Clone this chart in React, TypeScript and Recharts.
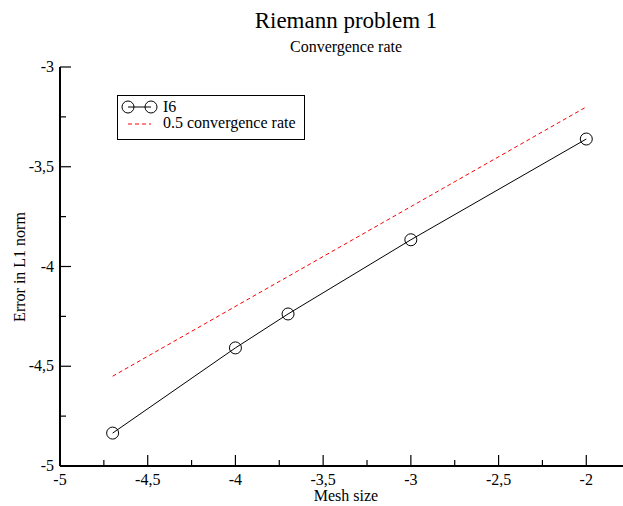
import { Line, LineChart, XAxis, YAxis } from "recharts"

// I6 error vs mesh size (log10 values)
const i6MeshSize = [-4.7, -4, -3.7, -3, -2]
const i6Error = [-4.835, -4.408, -4.238, -3.866, -3.361]

// reference slope line
const rateMeshSize = [-4.7, -2]
const rateError = [-4.55, -3.2]

const xMajorTicks = [-5, -4.5, -4, -3.5, -3, -2.5, -2, -1.5]
// -1,5 sits past the right edge of the picture, so no label there
const xMajorLabels = ["-5", "-4,5", "-4", "-3,5", "-3", "-2,5", "-2", ""]
const xMinorTicks = [-4.75, -4.25, -3.75, -3.25, -2.75, -2.25, -1.75]

const yMajorTicks = [-5, -4.5, -4, -3.5, -3]
const yMajorLabels = ["-5", "-4,5", "-4", "-3,5", "-3"]
const yMinorTicks = [-4.75, -4.25, -3.75, -3.25]

const i6Data = i6MeshSize.map((x, i) => ({ x, y: i6Error[i] }))
const rateData = rateMeshSize.map((x, i) => ({ x, y: rateError[i] }))

const xTicks = [...xMajorTicks, ...xMinorTicks].sort((a, b) => a - b)
const yTicks = [...yMajorTicks, ...yMinorTicks].sort((a, b) => a - b)

const FONT = "'Liberation Serif', 'DejaVu Serif', serif"

function BottomTick(props: any) {
  const { x, y, payload } = props
  const idx = xMajorTicks.indexOf(payload.value)
  const major = idx >= 0
  return (
    <g>
      <line x1={x} x2={x} y1={y} y2={y - (major ? 11 : 6)} stroke="#000" strokeWidth={1.2} />
      {major && xMajorLabels[idx] && (
        <text x={x} y={y + 19} textAnchor="middle" fontFamily={FONT} fontSize={16} fill="#000">
          {xMajorLabels[idx]}
        </text>
      )}
    </g>
  )
}

function TopTick(props: any) {
  const { x, y, payload } = props
  const major = xMajorTicks.includes(payload.value)
  return <line x1={x} x2={x} y1={y} y2={y + (major ? 11 : 6)} stroke="#000" strokeWidth={1.2} />
}

function LeftTick(props: any) {
  const { x, y, payload } = props
  const idx = yMajorTicks.indexOf(payload.value)
  const major = idx >= 0
  return (
    <g>
      <line x1={x} x2={x + (major ? 11 : 6)} y1={y} y2={y} stroke="#000" strokeWidth={1.2} />
      {major && (
        <text x={x - 6} y={y + 5} textAnchor="end" fontFamily={FONT} fontSize={16} fill="#000">
          {yMajorLabels[idx]}
        </text>
      )}
    </g>
  )
}

export default function App() {
  return (
    <div style={{ position: "relative", width: 623, height: 506, overflow: "hidden", background: "#fff" }}>
      <style>{`body{margin:0}`}</style>
      <LineChart width={690} height={506} margin={{ top: 67, right: 16, bottom: 0, left: 0 }}>
        <XAxis
          xAxisId="top"
          orientation="top"
          type="number"
          dataKey="x"
          domain={[-5, -1.5]}
          ticks={xTicks}
          interval={0}
          height={0}
          tickSize={0}
          tickMargin={0}
          tickLine={false}
          axisLine={{ stroke: "#000", strokeWidth: 2 }}
          tick={<TopTick />}
        />
        <XAxis
          type="number"
          dataKey="x"
          domain={[-5, -1.5]}
          ticks={xTicks}
          interval={0}
          height={40}
          tickSize={0}
          tickMargin={0}
          tickLine={false}
          axisLine={{ stroke: "#000", strokeWidth: 2 }}
          tick={<BottomTick />}
        />
        <YAxis
          type="number"
          domain={[-5, -3]}
          ticks={yTicks}
          interval={0}
          width={60}
          tickSize={0}
          tickMargin={0}
          tickLine={false}
          axisLine={{ stroke: "#000", strokeWidth: 2 }}
          tick={<LeftTick />}
        />
        <Line
          data={rateData}
          dataKey="y"
          stroke="#ff0000"
          strokeWidth={1}
          strokeDasharray="4 3"
          dot={false}
          isAnimationActive={false}
        />
        <Line
          data={i6Data}
          dataKey="y"
          stroke="#000"
          strokeWidth={1}
          dot={{ r: 6, stroke: "#000", strokeWidth: 1, fill: "none" }}
          isAnimationActive={false}
        />
      </LineChart>
      <svg
        width={623}
        height={506}
        style={{ position: "absolute", left: 0, top: 0, pointerEvents: "none" }}
        fontFamily={FONT}
      >
        <text x={346} y={28} textAnchor="middle" fontSize={23} fill="#000">
          Riemann problem 1
        </text>
        <text x={346} y={52} textAnchor="middle" fontSize={16} fill="#000">
          Convergence rate
        </text>
        <text x={346} y={501} textAnchor="middle" fontSize={16} fill="#000">
          Mesh size
        </text>
        <text x={25} y={267} textAnchor="middle" fontSize={16} fill="#000" transform="rotate(-90 25 267)">
          Error in L1 norm
        </text>
        <g>
          <rect x={117.5} y={95.5} width={187} height={44} fill="#fff" stroke="#000" strokeWidth={1} />
          <line x1={128} x2={151} y1={107} y2={107} stroke="#000" strokeWidth={1} />
          <circle cx={128} cy={107} r={6} fill="none" stroke="#000" strokeWidth={1} />
          <circle cx={151} cy={107} r={6} fill="none" stroke="#000" strokeWidth={1} />
          <text x={163} y={112} fontSize={16} fill="#000">
            I6
          </text>
          <line x1={128} x2={151} y1={124} y2={124} stroke="#ff0000" strokeWidth={1} strokeDasharray="4 3" />
          <text x={163} y={128} fontSize={16} fill="#000">
            0.5 convergence rate
          </text>
        </g>
      </svg>
    </div>
  )
}
